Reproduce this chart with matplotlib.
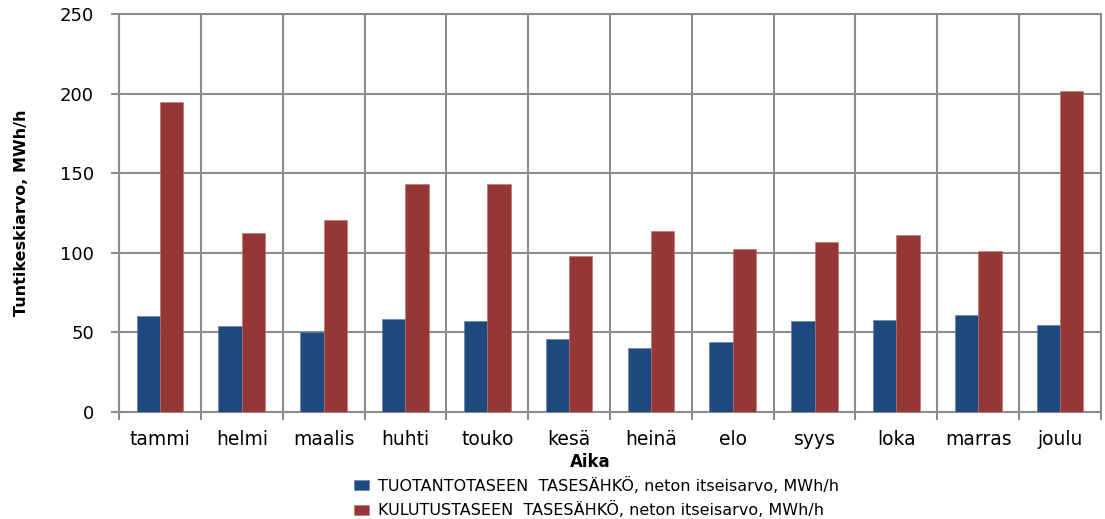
import matplotlib
matplotlib.use("Agg")
import matplotlib.pyplot as plt
import numpy as np

categories = ["tammi", "helmi", "maalis", "huhti", "touko", "kesä", "heinä",
              "elo", "syys", "loka", "marras", "joulu"]
tuotanto = [60, 54, 50, 58.5, 57, 46, 40, 44, 57, 57.5, 61, 54.5]
kulutus = [195, 112.5, 120.5, 143.5, 143.5, 98, 114, 102.5, 107, 111, 101, 201.5]
label_t = "TUOTANTOTASEEN  TASESÄHKÖ, neton itseisarvo, MWh/h"
label_k = "KULUTUSTASEEN  TASESÄHKÖ, neton itseisarvo, MWh/h"

W, H = 1105, 519
plt.rcParams['font.family'] = ['DejaVu Sans']
fig = plt.figure(figsize=(W/100, H/100), dpi=100)
ax = fig.add_axes([119/W, 1-412/H, (1101-119)/W, (412-14)/H])

x = np.arange(len(categories))
w = 0.285
gc = "#8c8c8c"
ax.bar(x - w/2, tuotanto, w, color="#1f497d", edgecolor="#5a7fb0", linewidth=0.4,
       label=label_t, zorder=3)
ax.bar(x + w/2, kulutus, w, color="#953735", edgecolor="#c07070", linewidth=0.4,
       label=label_k, zorder=3)

ax.set_xlim(-0.5, len(categories) - 0.5)
ax.set_ylim(0, 250)
ax.set_yticks(np.arange(0, 251, 50))
ax.set_xticks(x)
ax.set_xticklabels(categories, fontsize=13.5)
ax.set_xticks(np.arange(-0.5, len(categories), 1), minor=True)
ax.tick_params(axis='x', which='major', length=0, pad=13)
ax.tick_params(axis='x', which='minor', length=6, width=1.5, color=gc)
ax.tick_params(axis='y', length=6, width=1.5, color=gc, labelsize=13, pad=12)
ax.grid(axis='y', color=gc, linewidth=1.5, zorder=0)
ax.grid(axis='x', which='minor', color=gc, linewidth=1.5, zorder=0)
for s in ax.spines.values():
    s.set_color(gc)
    s.set_linewidth(1.5)

ax.set_xlabel("Aika", fontsize=12, fontweight='bold', va='center')
ax.xaxis.set_label_coords(590/W, 1-462/H, transform=fig.transFigure)
ax.set_ylabel("Tuntikeskiarvo, MWh/h", fontsize=11.5, fontweight='bold', labelpad=22)

fig.legend(loc='upper center', bbox_to_anchor=(0.54, 1-469/H), ncol=1, frameon=False,
           fontsize=11.5, handlelength=0.9, handleheight=0.6, handletextpad=0.6,
           labelspacing=0.45, borderpad=0.0)

fig.savefig("out.png", dpi=100)
